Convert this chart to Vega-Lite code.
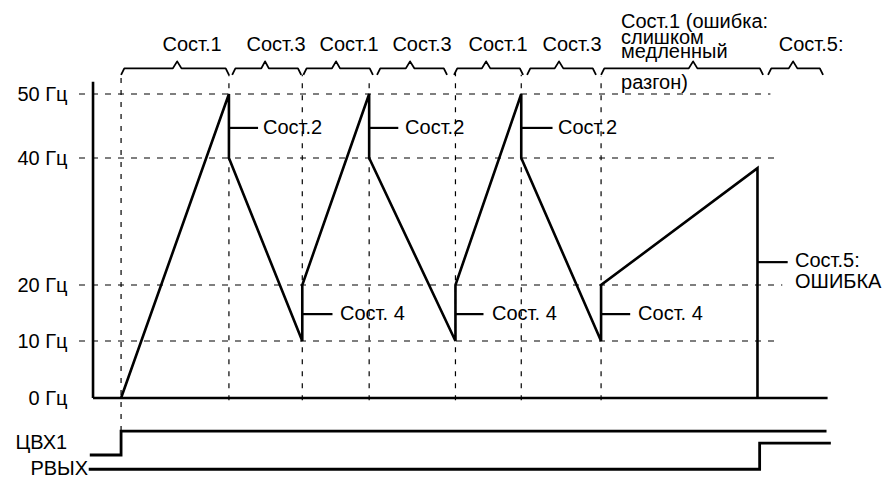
{
  "$schema": "https://vega.github.io/schema/vega-lite/v6.json",
  "width": 809,
  "height": 478,
  "autosize": {"type": "none"},
  "padding": {"left": 79, "top": 0, "right": 0, "bottom": 0},
  "background": "white",
  "config": {"view": {"stroke": null}, "font": "Liberation Sans"},
  "datasets": {
    "hgrid": [
      {"f": 50, "t": -3.9, "t2": 60.2},
      {"f": 40, "t": -3.9, "t2": 60.8},
      {"f": 20, "t": -3.9, "t2": 61.3},
      {"f": 10, "t": -3.9, "t2": 60.8}
    ],
    "vgrid": [
      {"t": 0, "f": -5.8, "f2": 52.9},
      {"t": 10, "f": -0.4, "f2": 53.1},
      {"t": 16.8, "f": -0.4, "f2": 53},
      {"t": 23, "f": -0.4, "f2": 51.9},
      {"t": 31, "f": -0.4, "f2": 53.4},
      {"t": 37.1, "f": -0.4, "f2": 53},
      {"t": 44.5, "f": -0.4, "f2": 52.8}
    ],
    "frame": [
      {"t": -2.6, "t2": -2.6, "f": 0, "f2": 51.9},
      {"t": -2.6, "t2": 65.5, "f": 0, "f2": 0}
    ],
    "callouts": [
      {"t": 10, "t2": 12.7, "f": 44.7, "f2": 44.7},
      {"t": 23, "t2": 25.7, "f": 44.7, "f2": 44.7},
      {"t": 37.1, "t2": 40, "f": 44.7, "f2": 44.7},
      {"t": 16.8, "t2": 19.6, "f": 14.8, "f2": 14.8},
      {"t": 31, "t2": 33.6, "f": 14.8, "f2": 14.8},
      {"t": 44.5, "t2": 47.2, "f": 14.8, "f2": 14.8},
      {"t": 59, "t2": 61.8, "f": 23.6, "f2": 23.6}
    ],
    "freq": [
      {"i": 1, "t": 0, "f": 0},
      {"i": 2, "t": 10, "f": 50},
      {"i": 3, "t": 10, "f": 40},
      {"i": 4, "t": 16.8, "f": 10},
      {"i": 5, "t": 16.8, "f": 20},
      {"i": 6, "t": 23, "f": 50},
      {"i": 7, "t": 23, "f": 40},
      {"i": 8, "t": 31, "f": 10},
      {"i": 9, "t": 31, "f": 20},
      {"i": 10, "t": 37.1, "f": 50},
      {"i": 11, "t": 37.1, "f": 40},
      {"i": 12, "t": 44.5, "f": 10},
      {"i": 13, "t": 44.5, "f": 20},
      {"i": 14, "t": 59, "f": 38.4},
      {"i": 15, "t": 59, "f": 0}
    ],
    "signals": [
      {"g": "ЦВХ1", "i": 1, "t": -2.9, "f": -10},
      {"g": "ЦВХ1", "i": 2, "t": 0, "f": -10},
      {"g": "ЦВХ1", "i": 3, "t": 0, "f": -5.8},
      {"g": "ЦВХ1", "i": 4, "t": 65.4, "f": -5.8},
      {"g": "РВЫХ", "i": 1, "t": -3.0, "f": -12.5},
      {"g": "РВЫХ", "i": 2, "t": 59.2, "f": -12.5},
      {"g": "РВЫХ", "i": 3, "t": 59.2, "f": -7.9},
      {"g": "РВЫХ", "i": 4, "t": 65.8, "f": -7.9}
    ],
    "braces": [
      {"g": 1, "i": 1, "t": 0, "f": 53}, {"g": 1, "i": 2, "t": 0.3, "f": 54}, {"g": 1, "i": 3, "t": 4.8, "f": 54}, {"g": 1, "i": 4, "t": 5.2, "f": 55.1}, {"g": 1, "i": 5, "t": 5.6, "f": 54}, {"g": 1, "i": 6, "t": 9.7, "f": 54}, {"g": 1, "i": 7, "t": 10, "f": 53},
      {"g": 2, "i": 1, "t": 10.3, "f": 53}, {"g": 2, "i": 2, "t": 10.6, "f": 54}, {"g": 2, "i": 3, "t": 13, "f": 54}, {"g": 2, "i": 4, "t": 13.35, "f": 55.1}, {"g": 2, "i": 5, "t": 13.7, "f": 54}, {"g": 2, "i": 6, "t": 16.4, "f": 54}, {"g": 2, "i": 7, "t": 16.7, "f": 53},
      {"g": 3, "i": 1, "t": 16.9, "f": 53}, {"g": 3, "i": 2, "t": 17.2, "f": 54}, {"g": 3, "i": 3, "t": 19.55, "f": 54}, {"g": 3, "i": 4, "t": 19.93, "f": 55.1}, {"g": 3, "i": 5, "t": 20.3, "f": 54}, {"g": 3, "i": 6, "t": 23.05, "f": 54}, {"g": 3, "i": 7, "t": 23.35, "f": 53},
      {"g": 4, "i": 1, "t": 23.73, "f": 53}, {"g": 4, "i": 2, "t": 24.03, "f": 54}, {"g": 4, "i": 3, "t": 26.4, "f": 54}, {"g": 4, "i": 4, "t": 26.79, "f": 55.1}, {"g": 4, "i": 5, "t": 27.2, "f": 54}, {"g": 4, "i": 6, "t": 29.92, "f": 54}, {"g": 4, "i": 7, "t": 30.22, "f": 53},
      {"g": 5, "i": 1, "t": 30.87, "f": 53}, {"g": 5, "i": 2, "t": 31.17, "f": 54}, {"g": 5, "i": 3, "t": 33.45, "f": 54}, {"g": 5, "i": 4, "t": 33.84, "f": 55.1}, {"g": 5, "i": 5, "t": 34.23, "f": 54}, {"g": 5, "i": 6, "t": 36.97, "f": 54}, {"g": 5, "i": 7, "t": 37.27, "f": 53},
      {"g": 6, "i": 1, "t": 37.64, "f": 53}, {"g": 6, "i": 2, "t": 37.94, "f": 54}, {"g": 6, "i": 3, "t": 40.2, "f": 54}, {"g": 6, "i": 4, "t": 40.6, "f": 55.1}, {"g": 6, "i": 5, "t": 41, "f": 54}, {"g": 6, "i": 6, "t": 43.73, "f": 54}, {"g": 6, "i": 7, "t": 44.03, "f": 53},
      {"g": 7, "i": 1, "t": 44.5, "f": 53}, {"g": 7, "i": 2, "t": 44.8, "f": 54}, {"g": 7, "i": 3, "t": 52.63, "f": 54}, {"g": 7, "i": 4, "t": 53.03, "f": 55.1}, {"g": 7, "i": 5, "t": 53.43, "f": 54}, {"g": 7, "i": 6, "t": 59.22, "f": 54}, {"g": 7, "i": 7, "t": 59.52, "f": 53},
      {"g": 8, "i": 1, "t": 59.98, "f": 53}, {"g": 8, "i": 2, "t": 60.28, "f": 54}, {"g": 8, "i": 3, "t": 61.9, "f": 54}, {"g": 8, "i": 4, "t": 62.3, "f": 55.1}, {"g": 8, "i": 5, "t": 62.7, "f": 54}, {"g": 8, "i": 6, "t": 64.78, "f": 54}, {"g": 8, "i": 7, "t": 65.08, "f": 53}
    ],
    "braceLabels": [
      {"t": 6.58, "f": 57.66, "label": "Сост.1"},
      {"t": 14.37, "f": 57.66, "label": "Сост.3"},
      {"t": 21.14, "f": 57.66, "label": "Сост.1"},
      {"t": 27.9, "f": 57.66, "label": "Сост.3"},
      {"t": 34.95, "f": 57.66, "label": "Сост.1"},
      {"t": 41.81, "f": 57.66, "label": "Сост.3"},
      {"t": 63.97, "f": 57.66, "label": "Сост.5:"}
    ],
    "leftLabels": [
      {"t": 46.35, "f": 61.2, "label": "Сост.1 (ошибка:"},
      {"t": 46.35, "f": 58.75, "label": "слишком"},
      {"t": 46.35, "f": 56.5, "label": "медленный"},
      {"t": 46.35, "f": 51.72, "label": "разгон)"},
      {"t": 13.16, "f": 44.7, "label": "Сост.2"},
      {"t": 26.33, "f": 44.7, "label": "Сост.2"},
      {"t": 40.51, "f": 44.7, "label": "Сост.2"},
      {"t": 20.3, "f": 14.8, "label": "Сост. 4"},
      {"t": 34.39, "f": 14.8, "label": "Сост. 4"},
      {"t": 47.93, "f": 14.8, "label": "Сост. 4"},
      {"t": 62.48, "f": 23.8, "label": "Сост.5:"},
      {"t": 62.48, "f": 20.4, "label": "ОШИБКА"}
    ],
    "sideLabels": [
      {"t": -5.0, "f": -7.9, "label": "ЦВХ1"},
      {"t": -3.05, "f": -12.5, "label": "РВЫХ"}
    ]
  },
  "encoding": {
    "x": {
      "field": "t",
      "type": "quantitative",
      "scale": {"domain": [-3.9, 71.1], "nice": false, "zero": false},
      "axis": null
    },
    "y": {
      "field": "f",
      "type": "quantitative",
      "scale": {"domain": [0, 10, 20, 40, 50], "range": [398, 341, 285, 158, 94], "nice": false, "zero": false},
      "axis": {
        "values": [0, 10, 20, 40, 50],
        "labelExpr": "datum.value + ' Гц'",
        "domain": false,
        "ticks": false,
        "tickSize": 0,
        "grid": false,
        "title": null,
        "labelPadding": 12,
        "labelFont": "Liberation Sans",
        "labelFontSize": 20,
        "labelColor": "#000000"
      }
    }
  },
  "layer": [
    {
      "data": {"name": "hgrid"},
      "mark": {"type": "rule", "color": "#000000", "strokeWidth": 1.2, "strokeDash": [6, 7]},
      "encoding": {"x2": {"field": "t2"}}
    },
    {
      "data": {"name": "vgrid"},
      "mark": {"type": "rule", "color": "#000000", "strokeWidth": 1.2, "strokeDash": [5, 7]},
      "encoding": {"y2": {"field": "f2"}}
    },
    {
      "data": {"name": "frame"},
      "mark": {"type": "rule", "color": "#000000", "strokeWidth": 2.6},
      "encoding": {"x2": {"field": "t2"}, "y2": {"field": "f2"}}
    },
    {
      "data": {"name": "callouts"},
      "mark": {"type": "rule", "color": "#000000", "strokeWidth": 2.2},
      "encoding": {"x2": {"field": "t2"}, "y2": {"field": "f2"}}
    },
    {
      "data": {"name": "freq"},
      "mark": {"type": "line", "color": "#000000", "strokeWidth": 2.6, "strokeJoin": "miter"},
      "encoding": {"order": {"field": "i", "type": "quantitative"}}
    },
    {
      "data": {"name": "signals"},
      "mark": {"type": "line", "color": "#000000", "strokeWidth": 2.8, "strokeJoin": "miter"},
      "encoding": {"detail": {"field": "g"}, "order": {"field": "i", "type": "quantitative"}}
    },
    {
      "data": {"name": "braces"},
      "mark": {"type": "line", "color": "#000000", "strokeWidth": 1.8, "strokeJoin": "round"},
      "encoding": {"detail": {"field": "g"}, "order": {"field": "i", "type": "quantitative"}}
    },
    {
      "data": {"name": "braceLabels"},
      "mark": {"type": "text", "color": "#000000", "font": "Liberation Sans", "fontSize": 20, "align": "center", "baseline": "middle"},
      "encoding": {"text": {"field": "label"}}
    },
    {
      "data": {"name": "leftLabels"},
      "mark": {"type": "text", "color": "#000000", "font": "Liberation Sans", "fontSize": 20, "align": "left", "baseline": "middle"},
      "encoding": {"text": {"field": "label"}}
    },
    {
      "data": {"name": "sideLabels"},
      "mark": {"type": "text", "color": "#000000", "font": "Liberation Sans", "fontSize": 20, "align": "right", "baseline": "middle"},
      "encoding": {"text": {"field": "label"}}
    }
  ]
}
